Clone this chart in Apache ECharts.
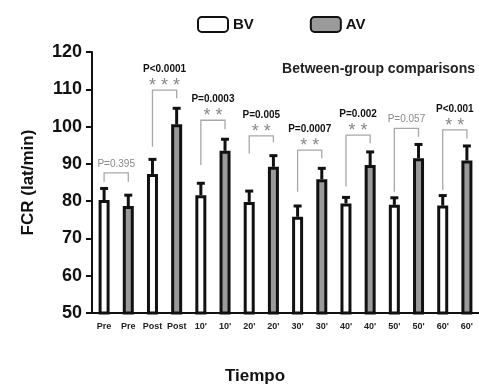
<!DOCTYPE html>
<html>
<head>
    <meta charset="utf-8" />
    <title>FCR</title>
    <script src="https://cdn.jsdelivr.net/npm/echarts@6/dist/echarts.min.js"></script>
</head>
<body style="margin:0">
    <div id="main" style="width: 479px;height:389px;"></div>
    <script type="text/javascript">
        // grupos de tiempo
        const times = ['Pre', 'Post', "10'", "20'", "30'", "40'", "50'", "60'"];
        // BV: media y error (SEM, solo hacia arriba)
        const bvMean = [80.3, 87.3, 81.6, 79.8, 75.8, 79.4, 79.0, 78.8];
        const bvSem = [3.1, 3.9, 3.2, 2.9, 2.9, 1.6, 1.9, 2.7];
        // AV
        const avMean = [78.7, 100.6, 93.5, 89.2, 85.9, 89.7, 91.5, 90.9];
        const avSem = [2.9, 4.3, 3.1, 3.0, 2.9, 3.5, 3.7, 3.9];
        // corchetes: altura del tramo horizontal, fin de pata izq., fin de pata der.
        const brTop = [87.6, 109.8, 101.7, 97.5, 93.7, 97.7, 99.5, 99.1];
        const brLeft = [85.2, 94.6, 89.7, 92.8, 82.5, 83.9, 82.5, 83.0];
        const brRight = [85.2, 107.6, 99.3, 95.7, 91.5, 95.5, 97.3, 96.8];
        const pLabels = ['P=0.395', 'P<0.0001', 'P=0.0003', 'P=0.005', 'P=0.0007', 'P=0.002', 'P=0.057', 'P<0.001'];
        const stars = ['', '* * *', '* *', '* *', '* *', '* *', '', '* *'];

        // 16 categorias: BV / AV alternadas
        const categories = [];
        const tickLabels = [];
        times.forEach(t => {
            categories.push(t + ' BV', t + ' AV');
            tickLabels.push(t, t);
        });

        const bvData = [], avData = [], errData = [], brData = [];
        times.forEach((t, i) => {
            bvData.push(bvMean[i], '-');
            avData.push('-', avMean[i]);
            errData.push([2 * i, bvMean[i], bvMean[i] + bvSem[i]]);
            errData.push([2 * i + 1, avMean[i], avMean[i] + avSem[i]]);
            brData.push([2 * i, 2 * i + 1, brTop[i], brLeft[i], brRight[i]]);
        });

        const FONT = '"Liberation Sans", Arial, sans-serif';

        let myChart = echarts.init(document.getElementById('main'));

        let option = {
            animation: false,
            grid: { left: 92, right: 0, top: 52, bottom: 76 },
            legend: {
                left: 192, top: 11,
                itemWidth: 30, itemHeight: 15, itemGap: 56,
                icon: 'roundRect',
                data: ['BV', 'AV'],
                textStyle: { fontFamily: FONT, fontWeight: 'bold', fontSize: 15, color: '#111' }
            },
            xAxis: {
                type: 'category',
                data: categories,
                axisLine: { lineStyle: { color: '#111', width: 2 } },
                axisTick: { show: false },
                axisLabel: {
                    interval: 0, margin: 9,
                    fontFamily: FONT, fontWeight: 'bold', fontSize: 9, color: '#222',
                    formatter: (v, idx) => tickLabels[idx]
                }
            },
            yAxis: {
                type: 'value',
                min: 50, max: 120, interval: 10,
                name: 'FCR (lat/min)',
                nameLocation: 'middle', nameGap: 55,
                nameTextStyle: { fontFamily: FONT, fontWeight: 'bold', fontSize: 17, color: '#111' },
                axisLine: { show: true, lineStyle: { color: '#111', width: 2 } },
                axisTick: { show: true, length: 6, lineStyle: { color: '#111', width: 2 } },
                splitLine: { show: false },
                axisLabel: { margin: 10, fontFamily: FONT, fontWeight: 'bold', fontSize: 18, color: '#111' }
            },
            graphic: [
                {
                    type: 'text', right: 4, top: 62,
                    style: { text: 'Between-group comparisons', font: 'bold 14px ' + FONT, fill: '#222' }
                },
                {
                    type: 'text', left: 225, top: 368,
                    style: { text: 'Tiempo', font: 'bold 17px ' + FONT, fill: '#111' }
                }
            ],
            series: [
                {
                    name: 'BV', type: 'bar', data: bvData,
                    barWidth: 11, barGap: '-100%',
                    itemStyle: { color: '#fff', borderColor: '#111', borderWidth: 3 }
                },
                {
                    name: 'AV', type: 'bar', data: avData,
                    barWidth: 11, barGap: '-100%',
                    itemStyle: { color: '#9a9a9a', borderColor: '#111', borderWidth: 3 }
                },
                {
                    name: 'err', type: 'custom', data: errData,
                    encode: { x: 0, y: [1, 2] },
                    z: 1,
                    renderItem: function (params, api) {
                        const base = api.coord([api.value(0), api.value(1)]);
                        const top = api.coord([api.value(0), api.value(2)]);
                        return {
                            type: 'group',
                            children: [
                                { type: 'line', shape: { x1: base[0], y1: base[1], x2: top[0], y2: top[1] }, style: { stroke: '#111', lineWidth: 3 } },
                                { type: 'line', shape: { x1: top[0] - 4, y1: top[1], x2: top[0] + 4, y2: top[1] }, style: { stroke: '#111', lineWidth: 3 } }
                            ]
                        };
                    }
                },
                {
                    name: 'brackets', type: 'custom', data: brData,
                    encode: { x: [0, 1], y: [2, 3, 4] },
                    renderItem: function (params, api) {
                        const i = params.dataIndex;
                        const lt = api.coord([api.value(0), api.value(2)]);
                        const rt = api.coord([api.value(1), api.value(2)]);
                        const lb = api.coord([api.value(0), api.value(3)]);
                        const rb = api.coord([api.value(1), api.value(4)]);
                        const cx = (lt[0] + rt[0]) / 2;
                        const hasStars = stars[i] !== '';
                        const children = [
                            {
                                type: 'polyline',
                                shape: { points: [lb, lt, rt, rb] },
                                style: { stroke: '#a8a8a8', lineWidth: 1.3, fill: null }
                            },
                            {
                                type: 'text',
                                style: {
                                    text: pLabels[i], x: cx, y: lt[1] - (hasStars ? 21 : 9),
                                    align: 'center', verticalAlign: 'middle',
                                    font: (hasStars ? 'bold ' : '') + '10px "Liberation Sans Narrow", ' + FONT,
                                    fill: hasStars ? '#111' : '#888'
                                }
                            }
                        ];
                        if (hasStars) {
                            children.push({
                                type: 'text',
                                style: {
                                    text: stars[i], x: cx, y: lt[1] - 4,
                                    align: 'center', verticalAlign: 'middle',
                                    font: '18px ' + FONT, fill: '#888'
                                }
                            });
                        }
                        return { type: 'group', children: children };
                    }
                }
            ]
        };

        myChart.setOption(option);
    </script>
</body>
</html>
